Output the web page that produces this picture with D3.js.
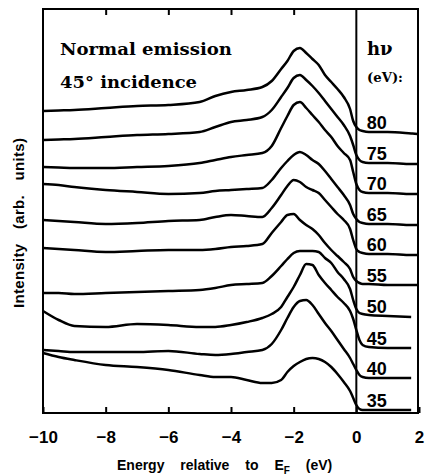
<!DOCTYPE html>
<html>
<head>
<meta charset="utf-8">
<script src="https://cdn.jsdelivr.net/npm/d3@7"></script>
<style>
  html, body { margin: 0; padding: 0; background: #fff; }
  svg { display: block; }
</style>
</head>
<body>
<svg id="chart" width="427" height="475"></svg>
<script>
// Binding energy grid (eV, relative to E_F) at which each spectrum was read
const energy = [-10, -9.5, -9, -8, -7, -6, -5, -4.5, -4, -3.5, -3, -2.7, -2.4, -2.2, -2.0, -1.8, -1.6, -1.4, -1.2, -1.0, -0.8, -0.6, -0.4, -0.2, -0.1, 0, 0.1, 0.2, 0.4, 1.0, 1.75, 1.95];

// Photon energies (eV), top to bottom
const photonEnergies = [80, 75, 70, 65, 60, 55, 50, 45, 40, 35];

// Intensities (arb. units, offset spectra)
const hv80 = [302, 302.5, 303, 305, 307, 308, 311, 317, 321, 323, 326, 332, 344, 352, 362, 365, 360, 354, 348, 338, 331, 324, 316, 304, 292, 286, 283, 282, 281, 281, 279.5, 279];
const hv75 = [273, 273.5, 274, 276, 278, 279, 281, 286, 291, 293, 296, 303, 316, 325, 335, 338, 333, 327, 320, 312, 304, 296, 288, 277, 268, 258, 253, 251, 250, 250, 249, 249];
const hv70 = [246, 245.5, 245, 245, 246, 247, 250, 253, 256, 258, 260, 267, 285, 297, 308, 311, 305, 298, 291, 283, 276, 267, 260, 253, 241, 229, 223, 221, 220, 220, 219, 219];
const hv65 = [229, 228, 226, 223, 221, 219, 220, 222, 223, 224, 225, 233, 245, 252, 258, 261, 258, 253, 249, 242, 234, 226, 218, 208, 199, 194, 191, 190, 189, 189, 188, 188];
const hv60 = [193, 192, 191, 189, 190, 192, 193, 196, 198, 197, 196, 205, 218, 227, 233, 231, 226, 223, 220, 213, 206, 199, 193, 184, 173, 164, 161, 160, 159, 159, 158, 158];
const hv55 = [165, 164, 163, 161, 162, 163, 163, 164, 166, 167, 169, 180, 191, 198, 199, 193, 188, 184, 178, 170, 163, 157, 151, 144, 136, 132, 130, 129, 129, 128, 128, 128];
const hv50 = [120, 120, 119, 120, 121, 122, 123, 125, 128, 129, 130, 137, 147, 154, 160, 162, 162, 162, 161, 155, 150, 141, 134, 124, 113, 104, 100, 99, 98, 97, 96, null];
const hv45 = [102, 93, 87, 86, 89, 88, 86, 86, 88, 91, 95, 99, 106, 116, 126, 138, 149, 148, 138, 130, 123, 116, 110, 102, 94, 83, 73, 68, 66, 65, 65, null];
const hv40 = [63, 62, 61, 61, 61, 62, 59, 58, 59, 61, 63, 69, 83, 95, 106, 112, 113, 108, 99, 90, 82, 73, 64, 55, 49, 43, 38, 36, 35, 35, 35, null];
const hv35 = [60, 56, 53, 48, 46, 43, 38, 36, 36, 33, 30, 30, 33, 41, 47, 51, 54, 55, 54, 51, 46, 39, 31, 22, 15, 8, 4, 3, 3, 3, 3, null];

const xTicks = [-10, -8, -6, -4, -2, 0, 2];
const labelEnergy = 1.0; // energy at which the hv label sits above its trace

const spectra = [hv80, hv75, hv70, hv65, hv60, hv55, hv50, hv45, hv40, hv35];

const svg = d3.select("#chart");
const mLeft = 43, mRight = 419, mTop = 9, mBottom = 413, frameRight = 418;

const x = d3.scaleLinear().domain([-10, 2]).range([mLeft, mRight]);
const y = d3.scaleLinear().domain([0, 404]).range([mBottom, mTop]);

// Frame
svg.append("rect")
  .attr("x", mLeft).attr("y", mTop)
  .attr("width", frameRight - mLeft).attr("height", mBottom - mTop)
  .attr("fill", "none").attr("stroke", "#000").attr("stroke-width", 2);

// Fermi level divider
svg.append("line")
  .attr("x1", x(0)).attr("x2", x(0)).attr("y1", mTop).attr("y2", mBottom)
  .attr("stroke", "#000").attr("stroke-width", 2);

// Bottom axis (inward ticks)
const fmt = d => (d < 0 ? "\u2212" + Math.abs(d) : String(d));
const bottomAxis = svg.append("g")
  .attr("transform", `translate(0,${mBottom})`)
  .call(d3.axisBottom(x).tickValues(xTicks).tickSizeInner(-6).tickSizeOuter(0).tickPadding(18).tickFormat(fmt));
bottomAxis.select(".domain").remove();
bottomAxis.selectAll(".tick line").attr("stroke", "#000").attr("stroke-width", 2);
bottomAxis.selectAll(".tick text")
  .attr("fill", "#000")
  .style("font-family", "'Liberation Sans', Arial, sans-serif")
  .style("font-weight", "bold")
  .style("font-size", "17px");

// Top axis (inward ticks, no labels)
const topAxis = svg.append("g")
  .attr("transform", `translate(0,${mTop})`)
  .call(d3.axisTop(x).tickValues(xTicks.filter(d => d > -10 && d < 0)).tickSizeInner(-6).tickSizeOuter(0).tickFormat(""));
topAxis.select(".domain").remove();
topAxis.selectAll(".tick line").attr("stroke", "#000").attr("stroke-width", 2);

// Spectra
const line = d3.line()
  .defined(d => d[1] !== null)
  .x(d => x(d[0]))
  .y(d => y(d[1]))
  .curve(d3.curveMonotoneX);

spectra.forEach((s, i) => {
  const pts = energy.map((e, j) => [e, s[j]]);
  svg.append("path")
    .datum(pts)
    .attr("d", line)
    .attr("fill", "none")
    .attr("stroke", "#000")
    .attr("stroke-width", 2.5)
    .attr("stroke-linejoin", "round");
  const li = energy.indexOf(labelEnergy);
  svg.append("text")
    .attr("x", x(0.33))
    .attr("y", y(s[li]) - 3)
    .style("font-family", "'Liberation Sans', Arial, sans-serif")
    .style("font-weight", "bold")
    .style("font-size", "18px")
    .text(photonEnergies[i]);
});

// Annotations
const serif = "'DejaVu Serif', serif";
svg.append("text").attr("x", 60).attr("y", 55)
  .attr("textLength", 172).attr("lengthAdjust", "spacingAndGlyphs")
  .style("font-family", serif).style("font-weight", "bold").style("font-size", "17px")
  .text("Normal emission");
svg.append("text").attr("x", 60).attr("y", 88)
  .attr("textLength", 137).attr("lengthAdjust", "spacingAndGlyphs")
  .style("font-family", serif).style("font-weight", "bold").style("font-size", "17px")
  .text("45\u00b0 incidence");
svg.append("text").attr("x", 367).attr("y", 55)
  .style("font-family", serif).style("font-weight", "bold").style("font-size", "18px")
  .text("h\u03bd");
svg.append("text").attr("x", 367).attr("y", 82)
  .attr("textLength", 36).attr("lengthAdjust", "spacingAndGlyphs")
  .style("font-family", serif).style("font-weight", "bold").style("font-size", "13px")
  .text("(eV):");

// Axis titles
const xt = svg.append("text").attr("x", 117).attr("y", 470)
  .style("font-family", "'Liberation Sans', Arial, sans-serif")
  .style("font-weight", "bold").style("font-size", "14px")
  .style("word-spacing", "12px");
xt.append("tspan").text("Energy relative to E");
xt.append("tspan").attr("dy", 4).style("font-size", "10px").text("F");
xt.append("tspan").attr("dy", -4).text(" (eV)");

svg.append("text")
  .attr("transform", "translate(24,223) rotate(-90)")
  .attr("text-anchor", "middle")
  .attr("textLength", 170).attr("lengthAdjust", "spacing")
  .style("font-family", "'Liberation Sans', Arial, sans-serif")
  .style("font-weight", "bold").style("font-size", "15px")
  .style("word-spacing", "10px")
  .text("Intensity (arb. units)");
</script>
</body>
</html>
